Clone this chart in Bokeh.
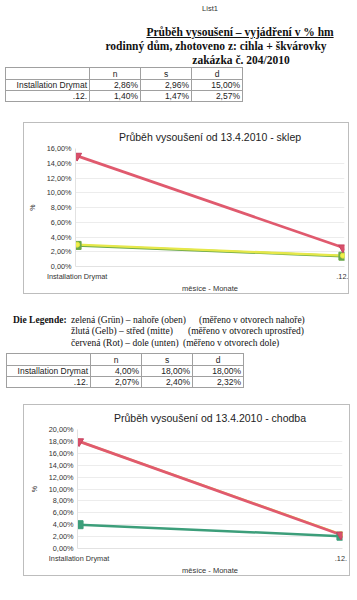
from bokeh.plotting import figure
from bokeh.models import Div, Spacer, Range1d, FixedTicker, CustomJSTickFormatter
from bokeh.layouts import column, row
from bokeh.embed import file_html
from bokeh.resources import INLINE

# ---------------- data ----------------
categories = ["Installation Drymat", ".12."]
series_names = ["n", "s", "d"]

sklep_n = [2.86, 1.40]
sklep_s = [2.96, 1.47]
sklep_d = [15.00, 2.57]

chodba_n = [4.00, 2.07]
chodba_s = [18.00, 2.40]
chodba_d = [18.00, 2.32]

sklep_ticks = [0, 2, 4, 6, 8, 10, 12, 14, 16]
chodba_ticks = [0, 2, 4, 6, 8, 10, 12, 14, 16, 18, 20]

title_lines = [
    "Průběh vysoušení – vyjádření v % hm",
    "rodinný dům, zhotoveno z: cihla + škvárovky",
    "zakázka č. 204/2010",
]
legend_rows = [
    ("zelená (Grün) – nahoře (oben)", "(měřeno v otvorech nahoře)"),
    ("žlutá (Gelb) – střed (mitte)", "(měřeno v otvorech uprostřed)"),
    ("červená (Rot) – dole (unten)", "(měřeno v otvorech dole)"),
]
chart_titles = ["Průběh vysoušení od 13.4.2010 - sklep", "Průběh vysoušení od 13.4.2010 - chodba"]
x_title = "měsíce - Monate"
y_title = "%"

SANS = "Liberation Sans"
SERIF = "Liberation Serif"


def fmt(v):
    return f"{v:.2f}".replace(".", ",") + "%"


def table_html(n, s, d, left, top):
    cols = [n, s, d]
    cell = "border:1px solid #a0a0a0;padding:0 2px;height:10px;line-height:10px;"
    h = (f'<table style="position:absolute;left:{left}px;top:{top}px;border-collapse:collapse;'
         f'font-family:\'{SANS}\';font-size:8.5px;color:#222;">')
    h += f'<tr><td style="{cell}width:84px;height:12px;"></td>'
    for name in series_names:
        h += f'<td style="{cell}width:51px;text-align:center;height:12px;">{name}</td>'
    h += "</tr>"
    for i, cat in enumerate(categories):
        h += f'<tr><td style="{cell}text-align:right;">{cat}</td>'
        for c in cols:
            h += f'<td style="{cell}text-align:right;">{fmt(c[i])}</td>'
        h += "</tr>"
    h += "</table>"
    return h


def make_chart(title, n, s, d, ymax, yticks, fw, fh, bl, br, bt, bb, green, title_off):
    p = figure(frame_width=fw, frame_height=fh, output_backend="svg", toolbar_location=None,
               x_range=Range1d(-0.006, 1.006), y_range=Range1d(0, ymax),
               min_border_left=bl, min_border_right=br, min_border_top=bt, min_border_bottom=bb,
               background_fill_color="white", border_fill_color="white", outline_line_color=None)
    p.title.text = title
    p.title.align = "center"
    p.title.offset = title_off
    p.title.text_font = SANS
    p.title.text_font_size = "10.5px"
    p.title.text_font_style = "normal"
    p.title.text_color = "#222222"
    p.title.vertical_align = "top"
    p.title.standoff = 8

    xs = list(range(len(categories)))
    p.line(xs, n, line_color=green, line_width=2.5)
    p.line(xs, s, line_color="#e6e84a", line_width=2.3)
    p.line(xs, d, line_color="#e05a6e", line_width=2.8)
    p.scatter(xs, n, marker="square", size=8, fill_color=green, line_color=green)
    p.scatter(xs, s, marker="circle", size=5, fill_color="#f0f04a", line_color="#e0e040")
    p.scatter(xs, d, marker="inverted_triangle", size=9, fill_color="#d8506a", line_color="#c84060")

    p.xaxis.ticker = FixedTicker(ticks=xs)
    p.xaxis.major_label_overrides = {i: c for i, c in enumerate(categories)}
    p.yaxis.ticker = FixedTicker(ticks=yticks)
    p.yaxis.formatter = CustomJSTickFormatter(code="return tick.toFixed(2).replace('.', ',') + '%';")
    for ax in (p.xaxis[0], p.yaxis[0]):
        ax.major_tick_line_color = None
        ax.minor_tick_line_color = None
        ax.major_tick_out = 0
        ax.major_tick_in = 0
        ax.minor_tick_out = 0
        ax.minor_tick_in = 0
        ax.axis_line_color = "#e2e2e2"
        ax.major_label_text_font = SANS
        ax.major_label_text_font_size = "7.3px"
        ax.major_label_text_color = "#333333"
        ax.major_label_standoff = 4
        ax.axis_label_text_font = SANS
        ax.axis_label_text_font_style = "normal"
        ax.axis_label_text_color = "#333333"
    p.xaxis.major_label_standoff = 5
    p.xaxis.axis_label = x_title
    p.xaxis.axis_label_text_font_size = "7.5px"
    p.xaxis.axis_label_standoff = 0
    p.yaxis.axis_label = y_title
    p.yaxis.axis_label_text_font_size = "7px"
    p.yaxis.axis_label_standoff = 8
    p.xgrid.grid_line_color = None
    p.ygrid.grid_line_color = "#ececec"
    p.ygrid.ticker = FixedTicker(ticks=yticks)

    p.styles = {"border": "1px solid #bdbdbd"}
    return p


# ---------------- header ----------------
hdr = f'<div style="position:relative;width:357px;height:122px;">'
hdr += f'<div style="position:absolute;left:0;top:4px;width:420px;text-align:center;font-family:\'{SANS}\';font-size:7.5px;color:#333;">List1</div>'
tops = [24, 38, 52]
centers = [240, 216, 241]
for i, t in enumerate(title_lines):
    deco = "text-decoration:underline;" if i == 0 else ""
    hdr += (f'<div style="position:absolute;left:{centers[i]-150}px;top:{tops[i]}px;width:300px;text-align:center;'
            f'font-family:\'{SERIF}\';font-weight:bold;font-size:11.5px;color:#111;white-space:nowrap;{deco}">{t}</div>')
hdr += table_html(sklep_n, sklep_s, sklep_d, 5, 67)
hdr += "</div>"
header = Div(text=hdr, width=357, height=122, margin=0)

fig1 = make_chart(chart_titles[0], sklep_n, sklep_s, sklep_d, 16, sklep_ticks,
                  267, 116, 51, 6, 25, 29, "#6aa84a", -20)

# ---------------- legend + second table ----------------
mid = '<div style="position:relative;width:357px;height:110px;">'
mid += (f'<div style="position:absolute;left:13px;top:20px;font-family:\'{SERIF}\';font-weight:bold;'
        f'font-size:9.5px;color:#111;white-space:nowrap;">Die Legende:</div>')
second_x = [199, 188, 183]
for i, (a, b) in enumerate(legend_rows):
    top = 20 + i * 11.3
    mid += (f'<div style="position:absolute;left:71px;top:{top}px;font-family:\'{SERIF}\';'
            f'font-size:9.5px;color:#111;white-space:nowrap;">{a}</div>')
    mid += (f'<div style="position:absolute;left:{second_x[i]}px;top:{top}px;font-family:\'{SERIF}\';'
            f'font-size:9.5px;color:#111;white-space:nowrap;">{b}</div>')
mid += table_html(chodba_n, chodba_s, chodba_d, 6, 59)
mid += "</div>"
middle = Div(text=mid, width=357, height=110, margin=0)

fig2 = make_chart(chart_titles[1], chodba_n, chodba_s, chodba_d, 20, chodba_ticks,
                  263, 117, 53, 9, 24, 29, "#3c9e7a", -20)

layout = column(header,
                row(Spacer(width=23, height=10), fig1),
                middle,
                row(Spacer(width=23, height=10), fig2))

open("out.html", "w").write(file_html(layout, INLINE))
